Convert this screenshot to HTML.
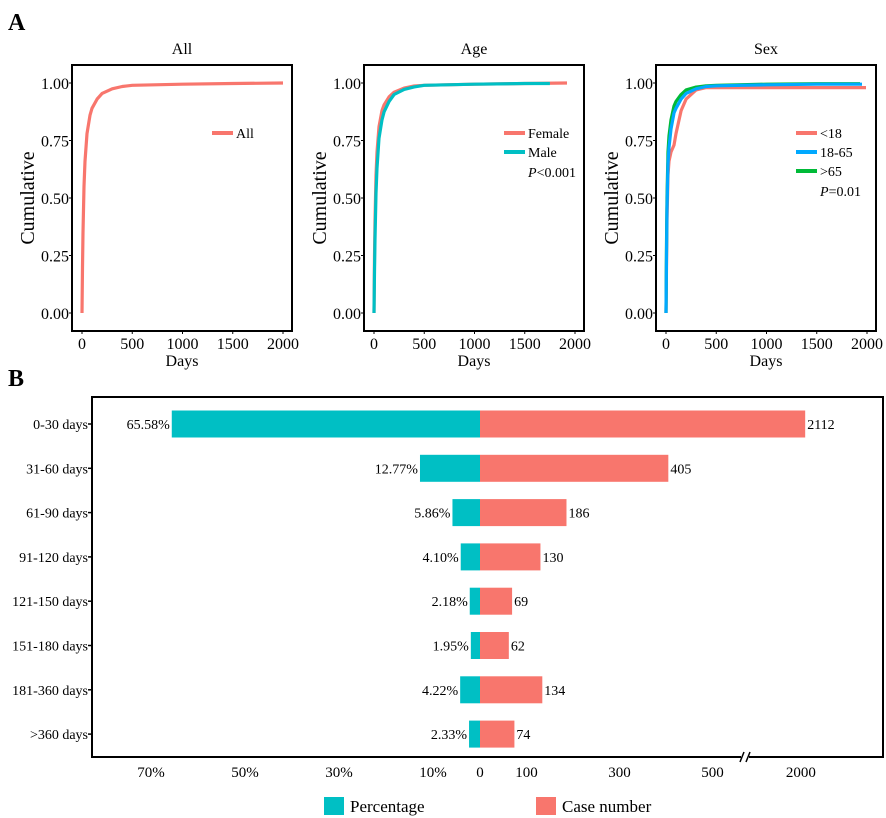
<!DOCTYPE html>
<html><head><meta charset="utf-8">
<style>
body{margin:0;background:#fff;}
svg{display:block;font-family:"Liberation Serif",serif;}
</style></head>
<body>
<svg id="fig" width="886" height="818" viewBox="0 0 886 818">
<text x="8" y="30" font-size="24" font-weight="bold">A</text>
<text x="8" y="386" font-size="24" font-weight="bold">B</text>
<g id="topg"></g>
<g id="bottomg"></g>
</svg>
<script>
// ---- Panel A data ----
const cdfDays = [0,5,10,20,30,50,80,100,150,200,300,400,500,1000,1500,2000];
const allCum = [0,0.2,0.35,0.55,0.66,0.78,0.86,0.89,0.93,0.955,0.975,0.985,0.99,0.995,0.998,1.0];
const femaleCum = [0,0.25,0.4,0.6,0.7,0.81,0.88,0.905,0.94,0.96,0.978,0.987,0.99,0.995,0.998,1.0];
const maleCum = [0,0.18,0.32,0.52,0.63,0.76,0.84,0.875,0.92,0.95,0.972,0.983,0.99,0.995,0.998,0.998];
const maleEnd = 1750;
const under18Cum = [0,0.2,0.4,0.6,0.66,0.7,0.73,0.78,0.88,0.93,0.97,0.98,0.98,0.98,0.98,0.98];
const mid65Cum = [0,0.25,0.45,0.65,0.72,0.8,0.87,0.89,0.93,0.955,0.975,0.985,0.988,0.992,0.995,0.995];
const over65Cum = [0,0.3,0.5,0.7,0.77,0.84,0.9,0.92,0.95,0.97,0.982,0.988,0.99,0.995,0.997,0.997];
const yTicks = [0,0.25,0.5,0.75,1.0];
const xTicks = [0,500,1000,1500,2000];

// ---- Panel B data ----
const categories = ["0-30 days","31-60 days","61-90 days","91-120 days","121-150 days","151-180 days","181-360 days",">360 days"];
const percentages = [65.58,12.77,5.86,4.10,2.18,1.95,4.22,2.33];
const caseNumbers = [2112,405,186,130,69,62,134,74];
const pctTicks = [70,50,30,10];
const caseTicks = [0,100,300,500,2000];

const NS="http://www.w3.org/2000/svg";
function mk(tag,attrs,parent,txt){const e=document.createElementNS(NS,tag);for(const k in attrs)e.setAttribute(k,attrs[k]);if(txt!==undefined)e.textContent=txt;parent.appendChild(e);return e;}

const topG=document.getElementById('topg');
const panels=[
 {off:0,title:"All",series:[{c:"#f8766d",y:allCum,name:"All",z:0}],p:null},
 {off:292,title:"Age",series:[{c:"#f8766d",y:femaleCum,name:"Female",end:1920,z:0},{c:"#00bfc4",y:maleCum,name:"Male",end:maleEnd,z:1}],p:["P","<0.001"]},
 {off:584,title:"Sex",series:[{c:"#f8766d",y:under18Cum,name:"<18",end:1990,z:0},{c:"#00a9ff",y:mid65Cum,name:"18-65",end:1950,z:2},{c:"#00ba38",y:over65Cum,name:">65",end:1930,z:1}],p:["P","=0.01"]}
];
panels.forEach((pn,pi)=>{
 const g=mk('g',{},topG);
 
 
 const o=pn.off;
 const sx=d=>o+82+d*(201/2000);
 const sy=v=>313-v*230;
 const t=mk('text',{x:o+182,y:54,'font-size':16,'text-anchor':'middle'},g,pn.title);
 
 
 const yl=mk('text',{x:0,y:0,'font-size':20,'text-anchor':'middle',transform:`translate(${o+34},198) rotate(-90)`},g,"Cumulative");
 
 
 const xl=mk('text',{x:o+182,y:366,'font-size':16,'text-anchor':'middle'},g,"Days");
 
 
 yTicks.forEach(v=>{
  mk('line',{x1:o+69,x2:o+72,y1:sy(v),y2:sy(v),stroke:'#000','stroke-width':1},g);
  const tl=mk('text',{x:o+69,y:sy(v)+6,'font-size':16,'text-anchor':'end'},g,v.toFixed(2));
  
  
 });
 xTicks.forEach(v=>{
  mk('line',{x1:sx(v),x2:sx(v),y1:331,y2:334,stroke:'#000','stroke-width':1},g);
  const tl=mk('text',{x:sx(v),y:349,'font-size':16,'text-anchor':'middle'},g,String(v));
  
  
 });
 const order=pn.series.slice().sort((a,b)=>a.z-b.z);
 order.forEach(s=>{
  const end=s.end||2000;
  let d='';
  cdfDays.forEach((x,i)=>{const xx=Math.min(x,end);d+=(i?'L':'M')+sx(xx).toFixed(1)+','+sy(s.y[i]).toFixed(1);});
  const p=mk('path',{d:d,fill:'none',stroke:s.c,'stroke-width':3.2,'stroke-linejoin':'round'},g);
  
  
 });
 pn.series.forEach((s,si)=>{
  const ly=133+si*19;
  const ll=mk('line',{x1:o+212,x2:o+233,y1:ly,y2:ly,stroke:s.c,'stroke-width':4},g);
  
  
  const lt=mk('text',{x:o+236,y:ly+5,'font-size':14},g,s.name);
  
  
 });
 if(pn.p){
  const pt=mk('text',{x:o+236,y:133+pn.series.length*19+6,'font-size':14},g);
  mk('tspan',{'font-style':'italic'},pt,pn.p[0]);
  mk('tspan',{},pt,pn.p[1]);
  
  
 }
 const box=mk('rect',{x:o+72,y:65,width:220,height:266,fill:'none',stroke:'#000','stroke-width':2},g);
 
 
});

// ---- Panel B ----
const botG=document.getElementById('bottomg');
const zeroX=480;
const pctX=p=>zeroX-p*4.70;
const caseX=v=>v<=570?zeroX+v*0.465:zeroX+570*0.465+(v-570)*0.039;
const rowY=i=>424+i*44.3;
const frame=mk('path',{d:'M92,397 L883,397 L883,757 L92,757 Z',fill:'none',stroke:'#000','stroke-width':2},botG);


categories.forEach((c,i)=>{
 const y=rowY(i);
 const b1=mk('rect',{x:pctX(percentages[i]),y:y-13.5,width:zeroX-pctX(percentages[i]),height:27,fill:'#00bfc4'},botG);
 
 
 const b2=mk('rect',{x:zeroX,y:y-13.5,width:caseX(caseNumbers[i])-zeroX,height:27,fill:'#f8766d'},botG);
 
 
 const l1=mk('text',{x:pctX(percentages[i])-2,y:y+5,'font-size':14,'text-anchor':'end'},botG,percentages[i].toFixed(2)+'%');
 
 
 const l2=mk('text',{x:caseX(caseNumbers[i])+2,y:y+5,'font-size':14},botG,String(caseNumbers[i]));
 
 
 mk('line',{x1:88,x2:92,y1:y,y2:y,stroke:'#000','stroke-width':1.5},botG);
 const cl=mk('text',{x:88,y:y+5,'font-size':14,'text-anchor':'end'},botG,c);
 
 
});
pctTicks.forEach(p=>{
 const t=mk('text',{x:pctX(p),y:777,'font-size':15,'text-anchor':'middle'},botG,p+'%');
 
 
});
caseTicks.forEach(v=>{
 const t=mk('text',{x:caseX(v),y:777,'font-size':15,'text-anchor':'middle'},botG,String(v));
 
 
});
mk('rect',{x:741,y:753,width:8,height:8,fill:'#fff'},botG);
mk('line',{x1:740,x2:744,y1:762,y2:752,stroke:'#000','stroke-width':1.5},botG);
mk('line',{x1:746,x2:750,y1:762,y2:752,stroke:'#000','stroke-width':1.5},botG);
const lg=mk('g',{},botG);


const s1=mk('rect',{x:324,y:797,width:20,height:18,fill:'#00bfc4'},lg);


const t1=mk('text',{x:350,y:812,'font-size':17},lg,'Percentage');


const s2=mk('rect',{x:536,y:797,width:20,height:18,fill:'#f8766d'},lg);


const t2=mk('text',{x:562,y:812,'font-size':17},lg,'Case number');


</script>
</body></html>
